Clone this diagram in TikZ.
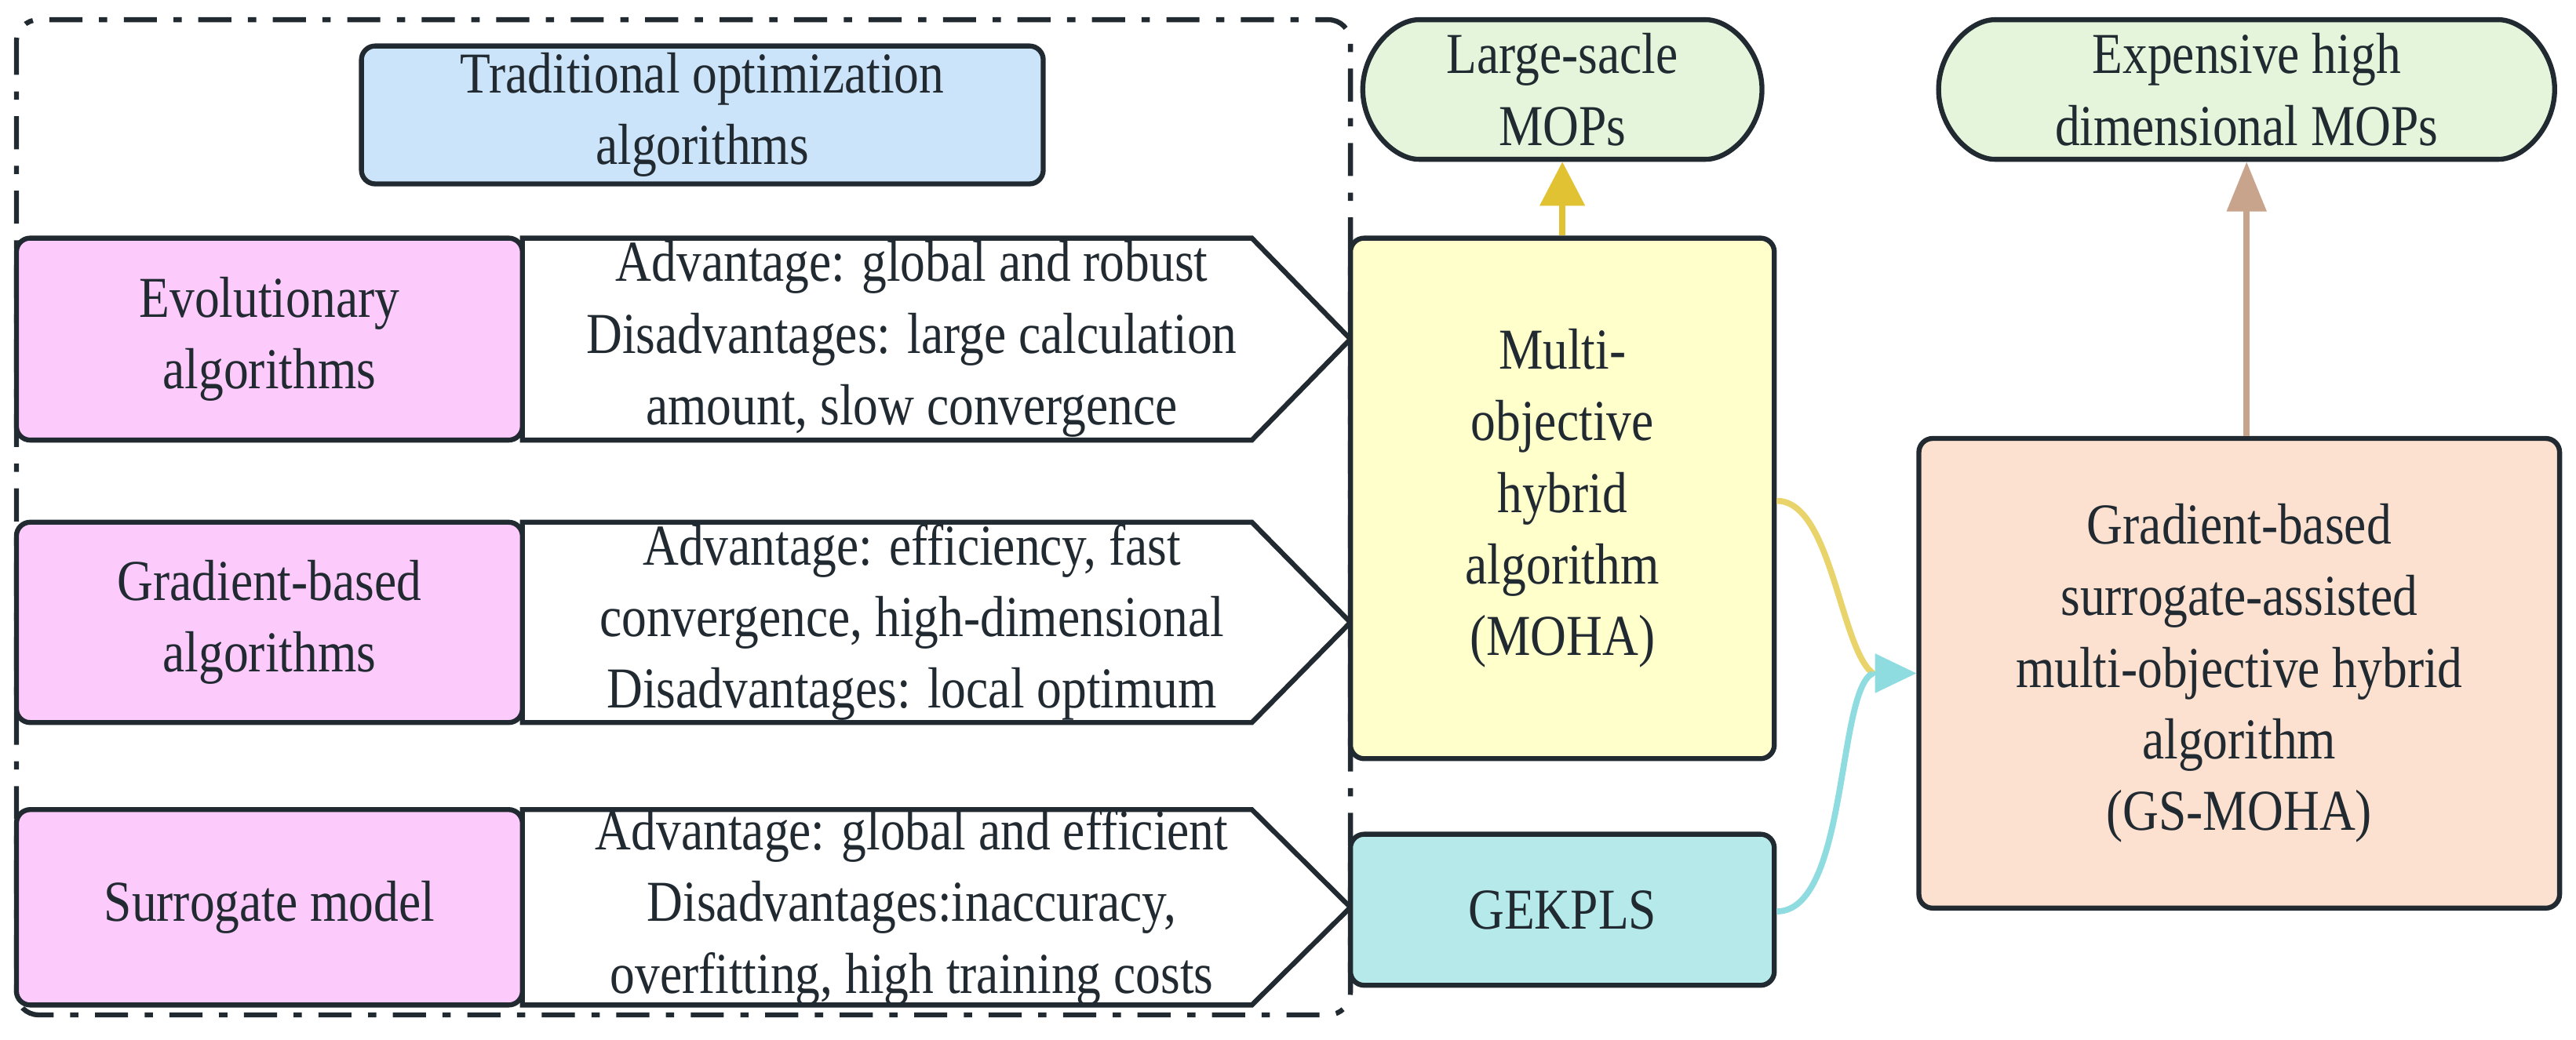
\documentclass[tikz,border=0pt]{standalone}
\usepackage{fontspec}
\setmainfont{Liberation Serif}[FakeStretch=0.86]
\usetikzlibrary{arrows.meta,shapes.misc}
\definecolor{ink}{HTML}{222A31}
\definecolor{cblue}{HTML}{CCE4F9}
\definecolor{cpink}{HTML}{FCCBFC}
\definecolor{cyel}{HTML}{FFFFCC}
\definecolor{ccyan}{HTML}{B5E9EA}
\definecolor{cgreen}{HTML}{E4F5DB}
\definecolor{cpeach}{HTML}{FCE1D1}
\definecolor{ayel}{HTML}{E0C232}
\definecolor{ayel2}{HTML}{E8D46A}
\definecolor{acyan}{HTML}{8EDCE0}
\definecolor{atan}{HTML}{C9A48C}
\tikzset{
  box/.style={draw=ink,line width=1.8pt,rounded corners=5pt,inner sep=0pt,align=center,
    font=\fontsize{21}{26}\selectfont,text=ink},
  pent/.style={draw=ink,line width=1.8pt,fill=white,line join=miter},
  txt/.style={align=center,font=\fontsize{21}{26}\selectfont,text=ink,inner sep=0pt},
}
\begin{document}
\begin{tikzpicture}[x=0.02094cm,y=-0.02094cm]
\useasboundingbox (0,0) rectangle (1568,633);
% frame
\draw[ink,line width=1.8pt,dash pattern=on 12pt off 6pt on 3pt off 6pt,rounded corners=8pt] (10,12) rectangle (822,618);
\node[box,fill=cblue,minimum width=415*0.02094cm,minimum height=84*0.02094cm] (trad) at (427.5,70) {Traditional optimization\\algorithms};
% rows
\foreach \n/\ya/\yb/\lab/\desc in {
 evo/145/268/{Evolutionary\\algorithms}/{Advantage: global and robust\\Disadvantages: large calculation\\amount, slow convergence},
 grad/318/440/{Gradient-based\\algorithms}/{Advantage: efficiency, fast\\convergence, high-dimensional\\Disadvantages: local optimum},
 sur/493/612/{Surrogate model}/{Advantage: global and efficient\\Disadvantages:inaccuracy,\\overfitting, high training costs}}{
  \draw[pent] (318,\ya) -- (762,\ya) -- (822,{(\ya+\yb)/2}) -- (762,\yb) -- (318,\yb) -- cycle;
  \node[box,fill=cpink,minimum width=308*0.02094cm,minimum height={(\yb-\ya)*0.02094cm}] (\n) at (164,{(\ya+\yb)/2}) {\lab};
  \node[txt] (\n d) at (555,{(\ya+\yb)/2}) {\desc};
}
\node[box,fill=cyel,minimum width=258*0.02094cm,minimum height=317*0.02094cm] (moha) at (951,303.5) {Multi-\\objective\\hybrid\\algorithm\\(MOHA)};
\node[box,fill=ccyan,minimum width=258*0.02094cm,minimum height=92*0.02094cm] (gek) at (951,554) {GEKPLS};
\node[box,fill=cgreen,rounded rectangle,minimum width=243*0.02094cm,minimum height=85*0.02094cm] (large) at (951,54.5) {Large-sacle\\MOPs};
\node[box,fill=cgreen,rounded rectangle,minimum width=375*0.02094cm,minimum height=85*0.02094cm] (exp) at (1367.5,54.5) {Expensive high\\dimensional MOPs};
\node[box,fill=cpeach,minimum width=390*0.02094cm,minimum height=286*0.02094cm] (gs) at (1363,410) {Gradient-based\\surrogate-assisted\\multi-objective hybrid\\algorithm\\(GS-MOHA)};
% arrows
\draw[ayel,line width=2.2pt,-{Triangle[length=16pt,width=16pt]}] (moha.north) -- (large.south);
\draw[atan,line width=2.2pt,-{Triangle[length=18pt,width=14pt]}] (gs.north -| exp.south) -- (exp.south);
\coordinate (m) at (1140,410);
\draw[ayel2,line width=2.2pt] (moha.east |- 0,305) .. controls (1115,305) and (1120,395) .. (m);
\draw[acyan,line width=2.2pt] (gek.east |- 0,555) .. controls (1125,555) and (1118,420) .. (m);
\draw[acyan,line width=1.5pt,-{Triangle[length=15pt,width=14pt]}] (m) -- (gs.west);
\end{tikzpicture}
\end{document}
